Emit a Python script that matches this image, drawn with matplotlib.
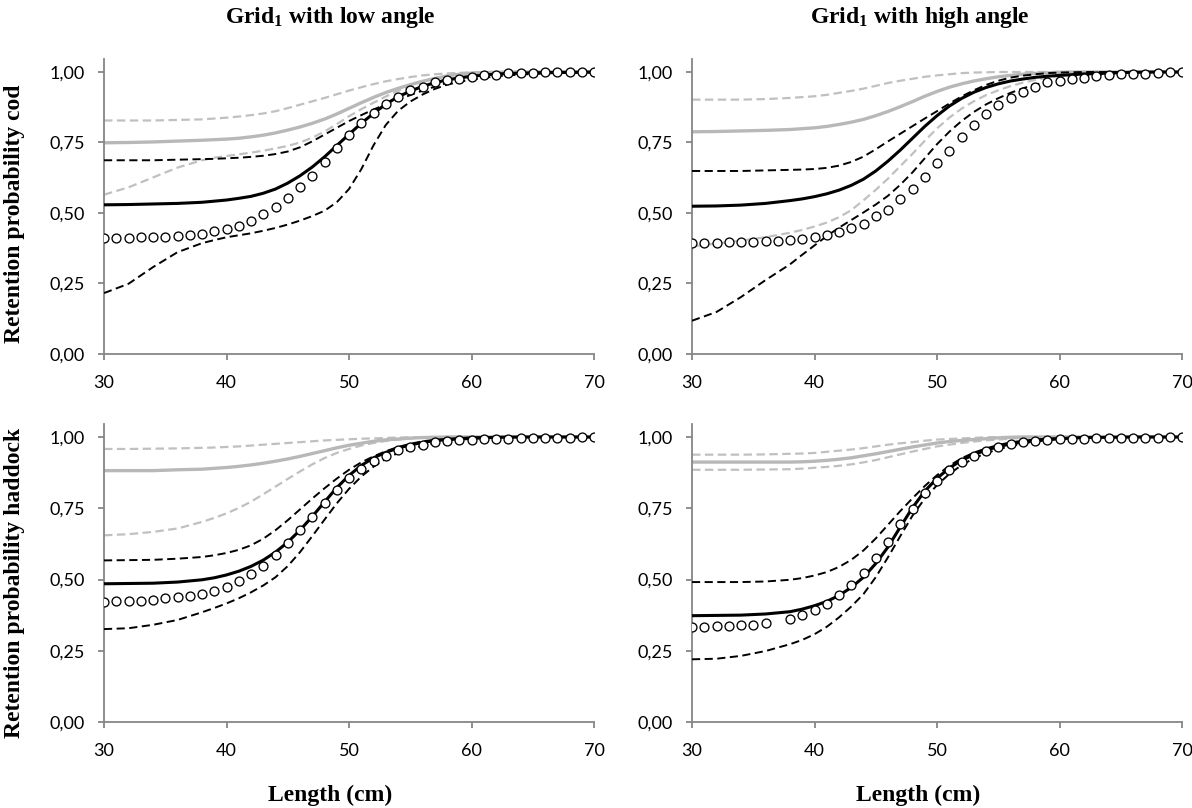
import numpy as np
import matplotlib
matplotlib.use("Agg")
import matplotlib.pyplot as plt

# ---------------- data ----------------
x_line = [30, 32, 34, 36, 38, 39, 40, 41, 42, 43, 44, 45, 46, 47, 48, 49, 50, 51, 52, 53, 54, 55,
          56, 57, 58, 59, 60, 62, 64, 66, 68, 70]
x_obs = list(range(30, 71))

# Top-left: cod, low angle
cod_low_gray = [.749, .750, .752, .755, .758, .760, .762, .765, .770, .776, .784, .794, .805, .818, .833, .851, .871, .891,
                .910, .927, .942, .955, .967, .977, .986, .992, .996, .999, 1, 1, 1, 1]
cod_low_gray_up = [.828, .828, .828, .830, .832, .835, .838, .842, .847, .853, .861, .872, .884, .896, .908, .921, .934, .946,
                   .957, .967, .975, .982, .988, .992, .995, .997, .999, 1, 1, 1, 1, 1]
cod_low_gray_lo = [.565, .591, .626, .661, .687, .696, .702, .708, .714, .721, .729, .738, .750, .767, .789, .815, .843, .868,
                   .891, .913, .933, .951, .966, .978, .987, .993, .996, .999, 1, 1, 1, 1]
cod_low_black = [.529, .530, .532, .534, .538, .542, .546, .552, .559, .570, .585, .606, .632, .663, .699, .739, .779, .818,
                 .853, .886, .912, .932, .949, .962, .972, .979, .985, .993, .996, .998, .999, 1]
cod_low_black_up = [.687, .687, .687, .689, .691, .692, .694, .696, .699, .703, .709, .718, .733, .754, .778, .802, .826, .847,
                    .867, .885, .902, .918, .934, .948, .961, .971, .979, .988, .995, .998, .999, 1]
cod_low_black_lo = [.216, .249, .308, .361, .393, .404, .414, .421, .428, .437, .447, .459, .473, .489, .508, .538, .585, .655,
                    .740, .812, .862, .895, .920, .940, .955, .965, .973, .985, .991, .995, .998, .999]
cod_low_obs = [.411, .411, .411, .414, .414, .414, .420, .422, .427, .435, .444, .455, .472, .495, .520, .553, .591, .632, .681, .729,
               .775, .820, .856, .888, .913, .935, .947, .964, .971, .976, .984, .990, .990, .995, .995, .995, .999, .999, .999, .999, 1.0]

# Top-right: cod, high angle
cod_high_gray = [.788, .789, .791, .793, .796, .799, .802, .807, .814, .822, .832, .845, .860, .877, .895, .914, .931, .946,
                 .958, .968, .976, .983, .988, .992, .995, .997, .999, 1, 1, 1, 1, 1]
cod_high_gray_up = [.902, .902, .902, .904, .908, .911, .914, .919, .926, .933, .941, .951, .961, .969, .976, .983, .988, .992,
                    .996, .998, .999, 1, 1, 1, 1, 1, 1, 1, 1, 1, 1, 1]
cod_high_gray_lo = [.381, .392, .402, .414, .430, .440, .452, .466, .485, .510, .545, .582, .622, .666, .710, .756, .800, .838,
                    .870, .896, .918, .935, .950, .962, .972, .980, .986, .994, .998, 1, 1, 1]
cod_high_black = [.524, .525, .528, .534, .544, .550, .558, .568, .581, .598, .620, .649, .684, .723, .765, .807, .845, .879,
                  .906, .928, .945, .958, .968, .975, .981, .985, .988, .993, .996, .999, 1, 1]
cod_high_black_up = [.649, .649, .649, .651, .653, .654, .656, .660, .668, .681, .700, .726, .754, .781, .808, .835, .861, .888,
                     .913, .935, .954, .969, .980, .987, .992, .996, .998, 1, 1, 1, 1, 1]
cod_high_black_lo = [.118, .149, .202, .262, .318, .352, .385, .418, .448, .475, .502, .530, .561, .600, .644, .694, .744, .788,
                     .826, .858, .885, .907, .926, .942, .955, .965, .973, .985, .993, .998, 1, 1]
cod_high_obs = [.393, .393, .393, .396, .396, .398, .402, .402, .406, .409, .414, .422, .434, .447, .462, .488, .511, .549, .585, .628,
                .678, .720, .769, .812, .852, .882, .908, .929, .948, .965, .968, .976, .980, .985, .989, .994, .994, .994, .995, .999, .999]

# Bottom-left: haddock, low angle
had_low_gray = [.882, .882, .882, .885, .887, .890, .893, .897, .902, .908, .915, .923, .932, .942, .952, .962, .971, .978,
                .985, .990, .993, .996, .998, .999, 1, 1, 1, 1, 1, 1, 1, 1]
had_low_gray_up = [.958, .958, .959, .960, .962, .963, .965, .967, .970, .973, .976, .979, .982, .985, .988, .990, .992, .994,
                   .995, .997, .998, .999, .999, 1, 1, 1, 1, 1, 1, 1, 1, 1]
had_low_gray_lo = [.655, .659, .667, .679, .702, .716, .732, .751, .773, .799, .826, .853, .879, .904, .926, .944, .958, .970,
                   .979, .986, .991, .995, .998, .999, 1, 1, 1, 1, 1, 1, 1, 1]
had_low_black = [.485, .486, .487, .491, .499, .506, .516, .529, .546, .568, .596, .631, .673, .721, .772, .822, .865, .900,
                 .927, .946, .961, .972, .981, .987, .991, .993, .995, .999, 1, 1, 1, 1]
had_low_black_up = [.567, .568, .569, .573, .579, .585, .593, .604, .620, .643, .673, .708, .746, .784, .820, .854, .885, .911,
                    .932, .950, .965, .976, .985, .990, .993, .996, .999, 1, 1, 1, 1, 1]
had_low_black_lo = [.326, .329, .341, .358, .385, .400, .416, .434, .455, .479, .508, .547, .596, .652, .710, .767, .818, .861,
                    .896, .923, .944, .958, .969, .978, .985, .990, .993, .998, 1, 1, 1, 1]
had_low_obs = [.422, .426, .426, .426, .429, .434, .438, .441, .449, .461, .475, .494, .520, .547, .585, .628, .673, .720, .769, .814,
               .855, .887, .915, .935, .953, .965, .973, .981, .985, .988, .989, .993, .993, .993, .996, .996, .997, .998, .998, .999, .999]

# Bottom-right: haddock, high angle
had_high_gray = [.912, .912, .912, .912, .912, .913, .915, .918, .922, .927, .934, .941, .949, .957, .965, .972, .979, .984,
                 .988, .991, .994, .997, .999, 1, 1, 1, 1, 1, 1, 1, 1, 1]
had_high_gray_up = [.938, .938, .938, .939, .941, .942, .944, .948, .952, .956, .961, .967, .973, .978, .982, .987, .991, .993,
                    .995, .997, .999, 1, 1, 1, 1, 1, 1, 1, 1, 1, 1, 1]
had_high_gray_lo = [.885, .885, .885, .886, .887, .889, .892, .895, .899, .904, .911, .919, .929, .939, .949, .958, .967, .973,
                    .979, .984, .988, .991, .994, .997, .999, 1, 1, 1, 1, 1, 1, 1]
had_high_black = [.373, .374, .375, .379, .387, .396, .408, .423, .444, .472, .508, .556, .614, .684, .752, .810, .855, .891,
                  .918, .938, .954, .966, .976, .982, .987, .991, .994, .998, .999, 1, 1, 1]
had_high_black_up = [.491, .491, .491, .493, .499, .505, .514, .526, .544, .569, .602, .644, .692, .740, .785, .828, .866, .899,
                     .925, .945, .960, .972, .981, .987, .991, .994, .996, .999, 1, 1, 1, 1]
had_high_black_lo = [.220, .222, .232, .249, .273, .288, .308, .334, .367, .405, .449, .508, .578, .652, .724, .784, .831, .870,
                     .901, .925, .943, .957, .968, .977, .984, .989, .993, .998, 1, 1, 1, 1]
had_high_obs = [.334, .334, .338, .338, .342, .342, .349, np.nan, .362, .374, .393, .414, .445, .479, .522, .575, .632, .693, .749, .802,
                .847, .885, .911, .935, .952, .964, .976, .981, .985, .988, .993, .993, .993, .996, .996, .997, .997, .998, .998, .999, .999]

titles = ["Grid$_1$ with low angle", "Grid$_1$ with high angle"]
ylabels = ["Retention probability cod", "Retention probability haddock"]
xlabel = "Length (cm)"
yticks = [0.0, 0.25, 0.5, 0.75, 1.0]
ytick_labels = ["0,00", "0,25", "0,50", "0,75", "1,00"]
xticks = [30, 40, 50, 60, 70]

# ---------------- style ----------------
plt.rcParams["mathtext.fontset"] = "custom"
plt.rcParams["mathtext.rm"] = "Liberation Serif:bold"
plt.rcParams["mathtext.it"] = "Liberation Serif:bold"
plt.rcParams["mathtext.bf"] = "Liberation Serif:bold"

W, H = 1192, 808
fig = plt.figure(figsize=(W / 100, H / 100), dpi=100)

GRAY_SOLID = "#B8B8B8"
GRAY_DASH = "#C0C0C0"
SPINE = "#868686"
serif = dict(family="Liberation Serif", weight="bold", size=17)
tickfont = "Lato"

panels = [
    (cod_low_gray, cod_low_gray_up, cod_low_gray_lo, cod_low_black, cod_low_black_up, cod_low_black_lo, cod_low_obs),
    (cod_high_gray, cod_high_gray_up, cod_high_gray_lo, cod_high_black, cod_high_black_up, cod_high_black_lo, cod_high_obs),
    (had_low_gray, had_low_gray_up, had_low_gray_lo, had_low_black, had_low_black_up, had_low_black_lo, had_low_obs),
    (had_high_gray, had_high_gray_up, had_high_gray_lo, had_high_black, had_high_black_up, had_high_black_lo, had_high_obs),
]

lefts = [104, 692]
zero_y = [354, 722]
one_y = [72, 437]
ymax = 1.045
axes_w = 490

for i, series in enumerate(panels):
    r, c = divmod(i, 2)
    unit = zero_y[r] - one_y[r]
    rect = [lefts[c] / W, 1 - zero_y[r] / H, axes_w / W, ymax * unit / H]
    ax = fig.add_axes(rect)
    g, gu, gl, b, bu, bl, obs = series
    ax.plot(x_line, gu, color=GRAY_DASH, lw=1.6, linestyle=(0, (3.8, 2.0)), zorder=2)
    ax.plot(x_line, gl, color=GRAY_DASH, lw=1.6, linestyle=(0, (3.8, 2.0)), zorder=2)
    ax.plot(x_line, g, color=GRAY_SOLID, lw=2.4, zorder=2, solid_capstyle="round")
    ax.plot(x_line, bu, color="black", lw=1.4, linestyle=(0, (4.2, 2.3)), zorder=3)
    ax.plot(x_line, bl, color="black", lw=1.4, linestyle=(0, (4.2, 2.3)), zorder=3)
    ax.plot(x_line, b, color="black", lw=2.2, zorder=3, solid_capstyle="round")
    ax.plot(x_obs, obs, linestyle="none", marker="o", markersize=6.4,
            markerfacecolor="white", markeredgecolor="black", markeredgewidth=0.95, zorder=4)

    ax.set_xlim(30, 70)
    ax.set_ylim(0, ymax)
    ax.set_xticks(xticks)
    ax.set_yticks(yticks)
    ax.set_yticklabels(ytick_labels)
    for s in ["top", "right"]:
        ax.spines[s].set_visible(False)
    for s in ["left", "bottom"]:
        ax.spines[s].set_color(SPINE)
        ax.spines[s].set_linewidth(1.3)
    ax.tick_params(axis="both", direction="out", length=4, width=1.3, color=SPINE,
                   labelsize=13, labelcolor="black")
    ax.tick_params(axis="y", pad=10)
    ax.tick_params(axis="x", pad=11)
    for lab in ax.get_xticklabels() + ax.get_yticklabels():
        lab.set_fontfamily(tickfont)
    ax.set_facecolor("none")

# titles
fig.text(330 / W, 1 - 17 / H, titles[0], ha="center", va="center", **serif)
fig.text(920 / W, 1 - 17 / H, titles[1], ha="center", va="center", **serif)
# y labels
fig.text(15 / W, 1 - 214 / H, ylabels[0], ha="center", va="center", rotation=90, **serif)
fig.text(15 / W, 1 - 583 / H, ylabels[1], ha="center", va="center", rotation=90, **serif)
# x labels
fig.text(330 / W, 1 - 795 / H, xlabel, ha="center", va="center", **serif)
fig.text(918 / W, 1 - 795 / H, xlabel, ha="center", va="center", **serif)

fig.savefig("out.png", dpi=100, facecolor="white")
